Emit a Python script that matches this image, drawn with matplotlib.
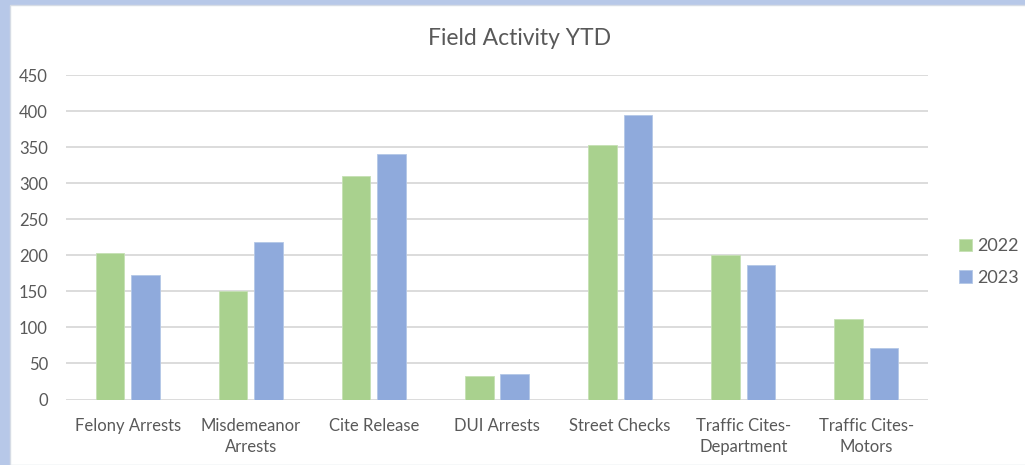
import numpy as np
import matplotlib
matplotlib.use("Agg")
from matplotlib import pyplot as plt
from matplotlib.patches import Rectangle

categories = ["Felony Arrests", "Misdemeanor\nArrests", "Cite Release", "DUI Arrests",
              "Street Checks", "Traffic Cites-\nDepartment", "Traffic Cites-\nMotors"]
values_2022 = [203, 150, 310, 32, 353, 201, 111]
values_2023 = [172, 218, 341, 36, 395, 186, 71]
series_names = ["2022", "2023"]
yticks = [0, 50, 100, 150, 200, 250, 300, 350, 400, 450]

green = "#a9d18e"
blue = "#8faadc"
text_grey = "#595959"

plt.rcParams['font.family'] = ['Lato', 'DejaVu Sans']

fig = plt.figure(figsize=(10.25, 4.65), dpi=100, facecolor="#b7c8e8")
# white chart area inside the light blue frame
fig.patches.append(Rectangle((10 / 1025, 0), 1, 1 - 5 / 465, transform=fig.transFigure,
                             facecolor="white", edgecolor="#d6dce5", linewidth=1, zorder=-5))

ax = fig.add_axes([66 / 1025, 1 - 399.5 / 465, (928 - 66) / 1025, (399.5 - 75) / 465])
ax.set_facecolor("none")

x = np.arange(len(categories))
w = 0.232
off = 0.144
ax.bar(x - off, values_2022, w, color=green, label=series_names[0], zorder=3,
       edgecolor="#c5e0b4", linewidth=0.6)
ax.bar(x + off, values_2023, w, color=blue, label=series_names[1], zorder=3,
       edgecolor="#b4c7e7", linewidth=0.6)

ax.set_xlim(-0.5, len(categories) - 0.5)
ax.set_ylim(0, 450)
ax.set_yticks(yticks)
ax.yaxis.grid(True, color="#d9d9d9", linewidth=1.3, zorder=0)
ax.set_axisbelow(True)
for s in ax.spines.values():
    s.set_visible(False)
ax.tick_params(axis="both", length=0, colors=text_grey, labelsize=12)
ax.tick_params(axis="y", pad=13)
ax.tick_params(axis="x", pad=13)
ax.set_xticks(x)
ax.set_xticklabels(categories, linespacing=1.45)

fig.text(0.507, 1 - 38 / 465, "Field Activity YTD", ha="center", va="center",
         fontsize=16.5, color=text_grey)

fig.legend(loc="center left", bbox_to_anchor=(959 / 1025, 1 - 262 / 465), frameon=False,
           fontsize=13, handlelength=0.7, handleheight=0.7, handletextpad=0.3,
           labelspacing=0.85, labelcolor=text_grey, borderpad=0, borderaxespad=0)

fig.savefig("out.png", dpi=100, facecolor=fig.get_facecolor())
